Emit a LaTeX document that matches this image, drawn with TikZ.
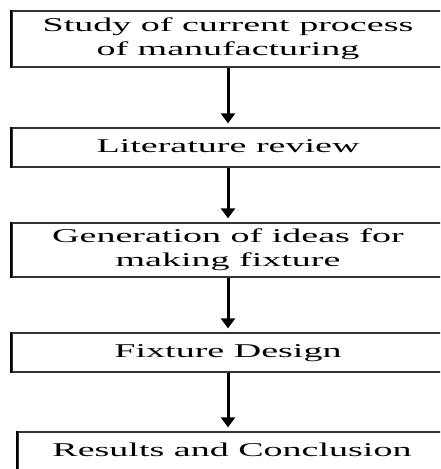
\documentclass[tikz,border=0pt]{standalone}
\usepackage{fontspec}
\setmainfont{Liberation Serif}
\usetikzlibrary{arrows.meta,positioning}
\newcommand{\widetext}[1]{\scalebox{1.95}[1]{\begin{tabular}{@{}c@{}}#1\end{tabular}}}

\begin{document}
\begin{tikzpicture}[x=1pt, y=-1pt,
    stage/.style={draw=black!80, line width=1.3pt, minimum width=432pt, inner sep=0pt,
                  font=\fontsize{19.5}{24}\selectfont},
    flow/.style={-{Triangle[width=14pt,length=10pt]}, line width=3pt, shorten >=4pt}]
    \useasboundingbox (0,0) rectangle (440,469);
    \clip (0,0) rectangle (440,469);

    % --- Stages ---
    \node[stage, minimum height=56pt] (study) at (228,39)
        {\widetext{Study of current process\\of manufacturing}};
    \node[stage, minimum height=39pt] (review) at (228,147.5)
        {\widetext{Literature review}};
    \node[stage, minimum height=54pt] (ideas) at (228,250)
        {\widetext{Generation of ideas for\\making fixture}};
    \node[stage, minimum height=39pt] (design) at (228,352.5)
        {\widetext{Fixture Design}};
    \node[stage, minimum height=40pt, minimum width=428pt] (results) at (232,452)
        {\widetext{Results and Conclusion}};

    % Darker left edges
    \foreach \s in {study,review,ideas,design,results}
        \draw[line width=2pt] (\s.north west) -- (\s.south west);

    % --- Arrows ---
    \draw[flow] (study) -- (review);
    \draw[flow] (review) -- (ideas);
    \draw[flow] (ideas) -- (design);
    \draw[flow] (design.south) -- (design.south |- results.north);
\end{tikzpicture}
\end{document}
